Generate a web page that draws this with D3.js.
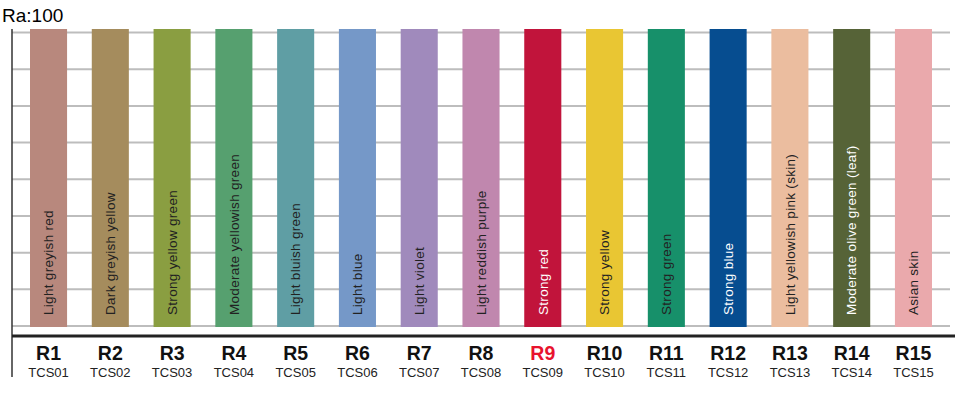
<!DOCTYPE html>
<html>
<head>
<meta charset="utf-8">
<script src="https://cdn.jsdelivr.net/npm/d3@7"></script>
<style>
  body { margin: 0; background: #fff; }
  text { font-family: "Liberation Sans", Arial, sans-serif; }
</style>
</head>
<body>
<svg id="chart"></svg>
<script>
// test colour samples, Ra = 100 so every Ri bar is full height
var codes = ["R1","R2","R3","R4","R5","R6","R7","R8","R9","R10","R11","R12","R13","R14","R15"];
var tcs = ["TCS01","TCS02","TCS03","TCS04","TCS05","TCS06","TCS07","TCS08","TCS09","TCS10","TCS11","TCS12","TCS13","TCS14","TCS15"];
var names = ["Light greyish red","Dark greyish yellow","Strong yellow green","Moderate yellowish green",
  "Light bluish green","Light blue","Light violet","Light reddish purple","Strong red","Strong yellow",
  "Strong green","Strong blue","Light yellowish pink (skin)","Moderate olive green (leaf)","Asian skin"];
var values = [100,100,100,100,100,100,100,100,100,100,100,100,100,100,100];
var colors = ["#b8887d","#a58c5d","#8a9e41","#56a06f","#5f9ea4","#7598c8","#a08abc","#c087ae","#c1143b",
  "#e9c633","#17906a","#064d90","#ebbd9f","#566337","#eaa9ac"];
var darkLabel = [0,0,0,0,0,0,0,0,1,0,0,1,0,1,0]; // white text on dark bars
var gridTicks = [0,1,2,3,4,5,6,7,8];

var W = 969, H = 396;
var svg = d3.select("#chart").attr("width", W).attr("height", H);

var x = d3.scaleBand().domain(codes).range([30, 932]).paddingInner(0.4).paddingOuter(0);
var y = d3.scaleLinear().domain([0, 100]).range([327, 29]);
var g = d3.scaleLinear().domain([0, 8]).range([326, 32.5]);

//Gridlines behind bars
svg.append("g").selectAll("line")
  .data(gridTicks)
  .enter()
  .append("line")
  .attr("x1", 12).attr("x2", 950)
  .attr("y1", function (d) { return g(d) })
  .attr("y2", function (d) { return g(d) })
  .attr("stroke", "#bdbdbd")
  .attr("stroke-width", 2);

//Bars
svg.append("g").selectAll("rect")
  .data(values)
  .enter()
  .append("rect")
  .attr("x", function (d, i) { return x(codes[i]) })
  .attr("y", function (d) { return y(d) })
  .attr("width", x.bandwidth())
  .attr("height", function (d) { return y(0) - y(d) })
  .attr("fill", function (d, i) { return colors[i] });

//Rotated colour names inside bars
svg.append("g").selectAll("text")
  .data(names)
  .enter()
  .append("text")
  .attr("transform", function (d, i) {
    return "translate(" + (x(codes[i]) + x.bandwidth() / 2) + "," + (y(0) - 12) + ") rotate(-90)";
  })
  .attr("dy", "0.35em")
  .attr("font-size", "13.5px")
  .attr("letter-spacing", "0.3px")
  .attr("fill", function (d, i) { return darkLabel[i] ? "#fff" : "#222" })
  .text(function (d) { return d });

//Axes lines
svg.append("line")
  .attr("x1", 12).attr("x2", 12).attr("y1", 29).attr("y2", 377)
  .attr("stroke", "#333").attr("stroke-width", 1.5);
svg.append("line")
  .attr("x1", 12).attr("x2", 955).attr("y1", 336).attr("y2", 336)
  .attr("stroke", "#222").attr("stroke-width", 3);

//Category labels
svg.append("g").selectAll("text")
  .data(codes)
  .enter()
  .append("text")
  .attr("x", function (d) { return x(d) + x.bandwidth() / 2 })
  .attr("y", 360)
  .attr("text-anchor", "middle")
  .attr("font-size", "19.5px")
  .attr("font-weight", "bold")
  .attr("fill", function (d) { return d == "R9" ? "#e8132e" : "#111" })
  .text(function (d) { return d });
svg.append("g").selectAll("text")
  .data(tcs)
  .enter()
  .append("text")
  .attr("x", function (d, i) { return x(codes[i]) + x.bandwidth() / 2 })
  .attr("y", 377)
  .attr("text-anchor", "middle")
  .attr("font-size", "13px")
  .attr("fill", "#222")
  .text(function (d) { return d });

//Title
svg.append("text")
  .attr("x", 2).attr("y", 22)
  .attr("font-size", "19px")
  .attr("fill", "#000")
  .text("Ra:100");
</script>
</body>
</html>
